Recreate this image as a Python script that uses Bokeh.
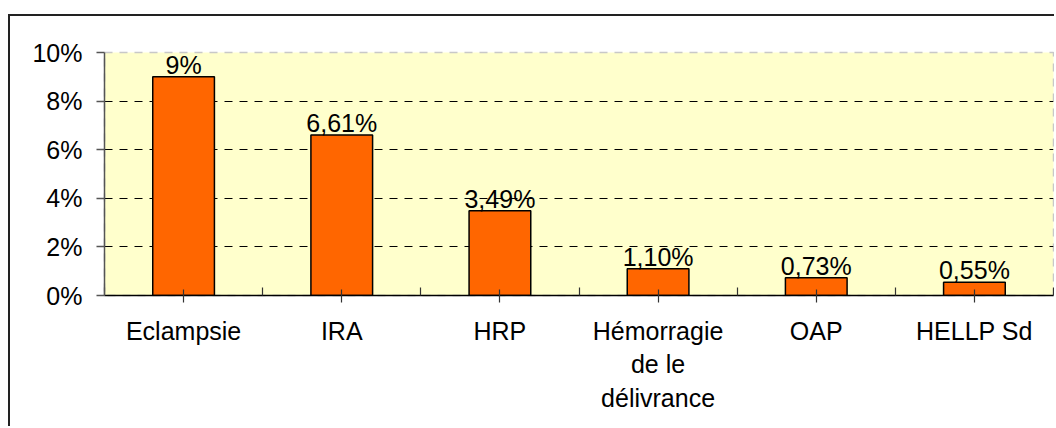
from bokeh.plotting import figure
from bokeh.models import (ColumnDataSource, Range1d, FixedTicker, PrintfTickFormatter, LabelSet)
from bokeh.core.properties import value
from bokeh.embed import file_html
from bokeh.resources import INLINE

categories = ["Eclampsie", "IRA", "HRP", "Hémorragie\nde le\ndélivrance", "OAP", "HELLP Sd"]
values = [9, 6.61, 3.49, 1.10, 0.73, 0.55]
value_labels = ["9%", "6,61%", "3,49%", "1,10%", "0,73%", "0,55%"]
y_ticks = [0, 2, 4, 6, 8, 10]

FONT = "Liberation Sans"
FS = "25px"

n = len(categories)
xs = [i + 0.5 for i in range(n)]
src = ColumnDataSource(dict(x=xs, top=values, lab=value_labels))

p = figure(width=1046, height=412, output_backend="svg", toolbar_location=None,
           x_range=Range1d(0, n), y_range=Range1d(0, 10),
           min_border_left=94, min_border_right=3, min_border_top=36, min_border_bottom=133)
p.styles = {"margin-left": "8px", "margin-top": "14px",
            "border-left": "2px solid #222222", "border-top": "2px solid #222222"}
p.background_fill_color = "#FFFFCC"
p.border_fill_color = "white"
p.outline_line_color = "#c8c8c8"
p.outline_line_dash = "8 7"
p.outline_line_width = 1.5

p.vbar(x="x", top="top", bottom=0, width=0.39, source=src,
       fill_color="#FF6600", line_color="black", line_width=1.5)

p.add_layout(LabelSet(x="x", y="top", text="lab", source=src, text_align="center",
                      text_baseline="alphabetic", y_offset=3,
                      text_font=value(FONT), text_font_size=value(FS), text_color="black"))

# grid
p.xgrid.visible = False
p.ygrid.ticker = FixedTicker(ticks=y_ticks[1:-1])
p.ygrid.grid_line_color = "black"
p.ygrid.grid_line_dash = "8 7"
p.ygrid.grid_line_width = 1.2

# y axis
p.yaxis.ticker = FixedTicker(ticks=y_ticks)
p.yaxis.formatter = PrintfTickFormatter(format="%d%%")
p.yaxis.axis_line_color = "#555555"
p.yaxis.axis_line_width = 1.5
p.yaxis.major_tick_line_color = "#555555"
p.yaxis.major_tick_line_width = 1.5
p.yaxis.major_tick_in = 0
p.yaxis.major_tick_out = 8
p.yaxis.minor_tick_line_color = None
p.yaxis.major_label_standoff = 14
p.yaxis.major_label_text_font = FONT
p.yaxis.major_label_text_font_size = FS
p.yaxis.major_label_text_color = "black"

# x axis
p.xaxis.ticker = FixedTicker(ticks=xs, minor_ticks=list(range(n + 1)))
p.xaxis.major_label_overrides = {x: c for x, c in zip(xs, categories)}
p.xaxis.axis_line_color = "black"
p.xaxis.axis_line_width = 1.5
p.xaxis.major_tick_line_color = "#333333"
p.xaxis.major_tick_line_width = 1.2
p.xaxis.major_tick_in = 6
p.xaxis.major_tick_out = 7
p.xaxis.minor_tick_line_color = "#333333"
p.xaxis.minor_tick_line_width = 1.2
p.xaxis.minor_tick_in = 8
p.xaxis.minor_tick_out = 0
p.xaxis.major_label_standoff = 14
p.xaxis.major_label_text_font = FONT
p.xaxis.major_label_text_font_size = FS
p.xaxis.major_label_text_color = "black"
p.xaxis.major_label_text_line_height = 1.2

open("out.html", "w").write(file_html(p, INLINE))
